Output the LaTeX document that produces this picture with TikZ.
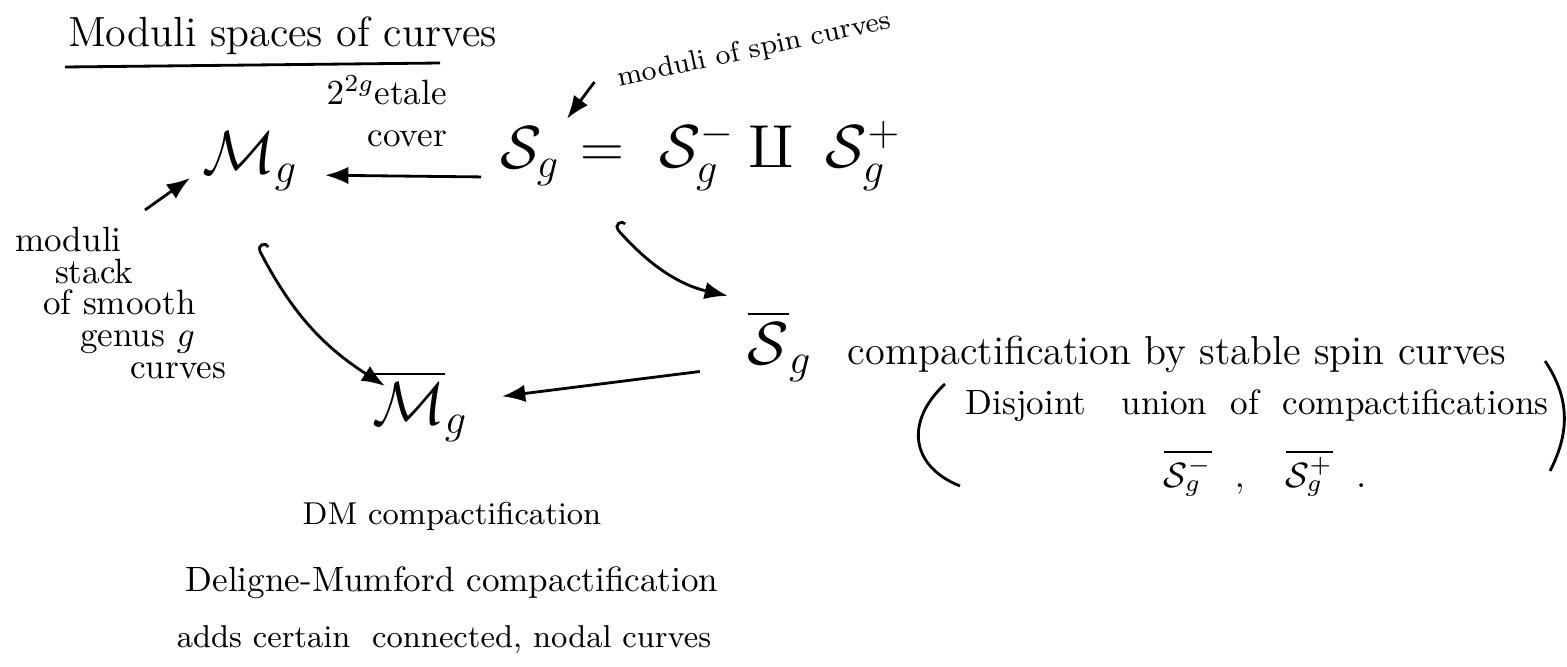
\documentclass[tikz,border=0pt]{standalone}
\usepackage{amsmath, amssymb}
\usepackage{tikz}
\usetikzlibrary{arrows.meta,positioning}

\begin{document}
\begin{tikzpicture}[>=Latex, thick, font=\normalsize]
  \useasboundingbox (0,0) rectangle (15.67,6.66);

  % Title
  \node[anchor=base west, font=\large] (title) at (0.55, 6.2) {Moduli spaces of curves};
  \draw (0.65, 5.99) -- (4.4, 6.03);

  % Spaces
  \node[font=\LARGE, inner sep=1pt] (Sg) at (5.3, 5.1) {$\mathcal{S}_g$};
  \node[font=\LARGE, inner sep=1pt, right=3pt of Sg] (Ssplit) {$=\ \mathcal{S}_g^- \amalg\ \mathcal{S}_g^+$};
  \node[font=\LARGE] (Mg) at (2.5, 5.05) {$\mathcal{M}_g$};
  \node[font=\LARGE] (bSg) at (7.8, 3.2) {$\overline{\mathcal{S}}_g$};
  \node[font=\LARGE] (bMg) at (4.2, 2.6) {$\overline{\mathcal{M}}_g$};

  % Labels
  \node[align=right, anchor=east] (cover) at (4.6, 5.55) {$2^{2g}$etale\\cover};
  \node[rotate=12, anchor=west, font=\footnotesize] (spin) at (6.05, 5.84) {moduli of spin curves};
  \node[align=left, anchor=north west, font=\fontsize{10}{9}\selectfont] (stack) at (0.02, 4.52)
    {moduli\\\hspace*{0.4cm}stack\\\hspace*{0.28cm}of smooth\\\hspace*{0.65cm}genus $g$\\\hspace*{1.15cm}curves};
  \node[font=\fontsize{11.5}{14}\selectfont] (compS) at (11.77, 3.12) {compactification by stable spin curves};
  \node[inner sep=1pt] (disj) at (12.57, 2.6) {Disjoint\quad union\ \ of\ \ compactifications};
  \node[inner sep=0pt] (pair) at (12.65, 1.93) {$\overline{\mathcal{S}_g^-}\ \ ,\ \ \ \overline{\mathcal{S}_g^+}\ \ .$};
  \node[font=\small] (dm) at (4.52, 1.5) {DM compactification};
  \node (dmfull) at (4.52, 0.83) {Deligne-Mumford compactification};
  \node[font=\small] (adds) at (4.44, 0.26) {adds certain\ \ connected, nodal curves};

  % Parentheses
  \draw (9.45, 2.82) .. controls (9.05, 2.45) and (9.1, 2.0) .. (9.6, 1.8);
  \draw (15.45, 3.05) .. controls (15.72, 2.65) and (15.68, 2.3) .. (15.5, 1.95);

  % Maps
  \draw[->, shorten >=4pt, shorten <=4pt] ([yshift=-6pt]Sg.west) -- ([yshift=-4pt]Mg.east);
  \draw[->, shorten >=1pt] ([xshift=-3pt]spin.west) -- (Sg.north east);
  \coordinate (stk) at (1.45, 4.56);
  \draw[->] (stk) -- (1.9, 4.88);
  \draw[{Hooks[right]}->, bend right=15] ([xshift=2pt, yshift=-12pt]Mg.south) to (3.85, 2.8);
  \draw[{Hooks[right]}->, bend right=18, shorten >=2pt] ([xshift=14pt, yshift=-10pt]Sg.south east) to (bSg.north west);
  \draw[->, shorten >=6pt, shorten <=10pt] ([yshift=-6pt]bSg.west) -- ([yshift=2pt]bMg.east);
\end{tikzpicture}
\end{document}
